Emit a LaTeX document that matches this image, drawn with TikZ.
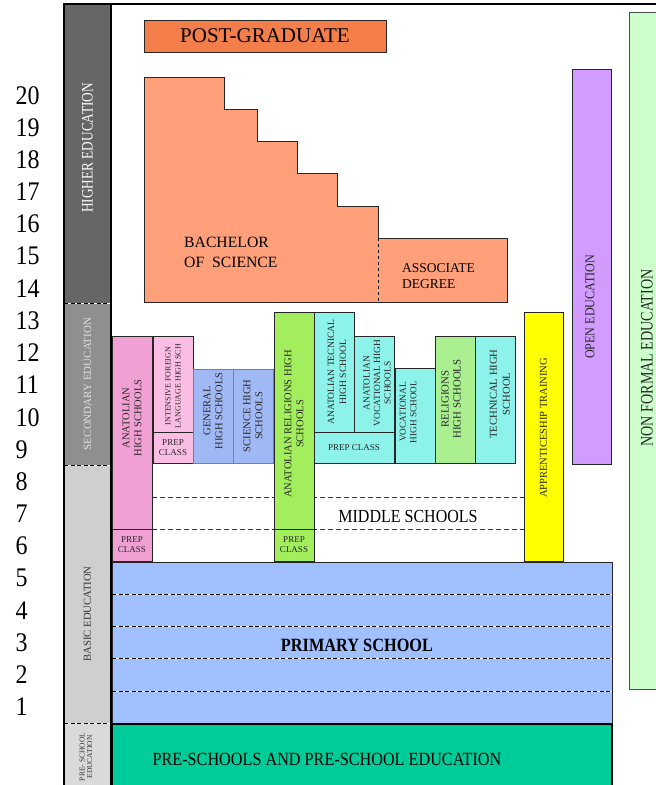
\documentclass[tikz,border=0pt]{standalone}
\usepackage{fontspec}
\setmainfont{Liberation Serif}
\usepackage{graphicx}
\usepackage{tikz}

\definecolor{hegray}{RGB}{102,102,102}
\definecolor{secgray}{RGB}{143,143,143}
\definecolor{basgray}{RGB}{207,207,207}
\definecolor{pregray}{RGB}{218,218,218}
\definecolor{pgorange}{RGB}{244,126,74}
\definecolor{bsalmon}{RGB}{255,160,122}
\definecolor{apink}{RGB}{240,160,210}
\definecolor{lpink}{RGB}{250,190,228}
\definecolor{hsblue}{RGB}{160,185,245}
\definecolor{argreen}{RGB}{162,238,92}
\definecolor{tcyan}{RGB}{140,242,234}
\definecolor{rgreen}{RGB}{170,240,145}
\definecolor{ayellow}{RGB}{255,255,0}
\definecolor{opurple}{RGB}{210,155,255}
\definecolor{nfgreen}{RGB}{204,255,204}
\definecolor{pblue}{RGB}{160,192,255}
\definecolor{pgreen}{RGB}{0,204,153}

\tikzset{
 blk/.style={draw=black!85, line width=0.8pt},
 lbl/.style={align=center, inner sep=0pt, text=black!85, font=\fontsize{10.5}{12}\selectfont},
 small/.style={align=center, inner sep=0pt, text=black!85, font=\fontsize{9}{10}\selectfont},
 sep/.style={line width=1pt, dash pattern=on 4pt off 2.5pt, preaction={draw=white, solid, line width=1pt}},
 mid/.style={line width=0.8pt, dash pattern=on 5pt off 3pt, black!80}
}

\begin{document}
\begin{tikzpicture}[x=1pt,y=-1pt]
\useasboundingbox (0,0) rectangle (656,785);

\fill[hegray] (64,4) rectangle (111,303);
\fill[secgray] (64,303) rectangle (111,465);
\fill[basgray] (64,465) rectangle (111,723);
\fill[pregray] (64,723) rectangle (111,785);
\foreach \y in {303,465,723}
 \draw[sep] (64,\y) -- (111,\y);
\draw[line width=1.3pt] (64,785) -- (64,4) -- (656,4);
\draw[line width=2pt] (111,4) -- (111,785);

\node[rotate=90, inner sep=0pt, text=white, font=\fontsize{16}{16}\selectfont] (higher) at (87.5,148) {\scalebox{0.83}[1]{HIGHER EDUCATION}};
\node[rotate=90, inner sep=0pt, text=white!88!black, font=\fontsize{11}{12}\selectfont] (secondary) at (87.5,384) {SECONDARY EDUCATION};
\node[rotate=90, inner sep=0pt, text=black!80, font=\fontsize{10.7}{12}\selectfont] (basic) at (87.5,614) {BASIC EDUCATION};
\node[rotate=90, inner sep=0pt, align=center, text=black!80, font=\fontsize{7.5}{7.5}\selectfont] (preschool) at (86,757) {PRE- SCHOOL\\EDUCATION};

\foreach \n in {1,...,20}
 \node[anchor=west, inner sep=0pt, font=\fontsize{24}{24}\selectfont] (n\n) at (15.5,{707-(\n-1)*32.2}) {\scalebox{1}[1.12]{\n}};

\draw[blk, fill=pgorange] (144,20) rectangle (386,52);
\node[font=\fontsize{21}{21}\selectfont] (postgrad) at (265,36) {POST-GRADUATE};

\draw[blk, fill=bsalmon] (144,77) -| (224,109) -| (257,141) -| (297,173) -| (337,206) -| (378,238) -| (507,302) -- (144,302) -- cycle;
\draw[dashed, line width=0.8pt] (378,238) -- (378,302);
\node[anchor=west, align=left, inner sep=0pt, font=\fontsize{15.7}{20}\selectfont] (bachelor) at (184,252) {BACHELOR\\OF~~SCIENCE};
\node[anchor=west, align=left, inner sep=0pt, font=\fontsize{13.5}{16}\selectfont] (associate) at (402,276) {ASSOCIATE\\DEGREE};

\draw[mid] (152,497) -- (524,497);
\draw[mid] (152,529) -- (524,529);
\node[font=\fontsize{16}{16}\selectfont] (middle) at (408,516) {\scalebox{1}[1.15]{MIDDLE SCHOOLS}};

\draw[blk, fill=apink] (112,336) rectangle (152,529);
\node[lbl, rotate=90] (anat) at (132,418) {ANATOLIAN\\HIGH SCHOOLS};
\draw[blk, fill=apink] (112,529) rectangle (152,561);
\node[small] (anatprep) at (132,545) {PREP\\CLASS};

\draw[blk, fill=lpink] (153,336) rectangle (193,432);
\node[lbl, rotate=90, font=\fontsize{8}{10}\selectfont] (intensive) at (173,386) {INTENSIVE FOREIGN\\LANGUAGE HIGH SCH};
\draw[blk, fill=lpink] (153,432) rectangle (193,463);
\node[small] (intensprep) at (173,448) {PREP\\CLASS};

\draw[draw=black!50, line width=0.8pt, fill=hsblue] (193,369) rectangle (233,463);
\node[lbl, rotate=90] (general) at (213,411) {GENERAL\\HIGH SCHOOLS};
\draw[draw=black!50, line width=0.8pt, fill=hsblue] (233,369) rectangle (273,463);
\node[lbl, rotate=90] (science) at (253,416) {SCIENCE HIGH\\SCHOOLS};

\draw[blk, fill=argreen] (274,312) rectangle (314,529);
\node[lbl, rotate=90] (anatrel) at (294,424) {ANATOLIAN RELIGIONS HIGH\\SCHOOLS};
\draw[blk, fill=argreen] (274,529) rectangle (314,561);
\node[small] (anatrelprep) at (294,545) {PREP\\CLASS};

\draw[blk, fill=tcyan] (314,312) rectangle (354,432);
\node[lbl, rotate=90, font=\fontsize{9.6}{12}\selectfont] (anattech) at (337,372) {ANATOLIAN TECNICAL\\HIGH SCHOOL};
\draw[blk, fill=tcyan] (354,336) rectangle (394,432);
\node[lbl, rotate=90, font=\fontsize{9.4}{10.5}\selectfont] (anatvoc) at (377,383) {ANATOLIAN\\VOCATIONAL HIGH\\SCHOOLS};
\draw[blk, fill=tcyan] (314,432) rectangle (394,463);
\node[small] (techprep) at (354,448) {PREP CLASS};

\draw[blk, fill=tcyan] (395,368) rectangle (435,463);
\node[lbl, rotate=90, font=\fontsize{9.2}{10.5}\selectfont] (voc) at (408,412) {VOCATIONAL\\HIGH SCHOOL};
\draw[blk, fill=rgreen] (435,336) rectangle (475,463);
\node[lbl, rotate=90, font=\fontsize{10.8}{12}\selectfont] (rel) at (451,399) {RELIGIONS\\HIGH SCHOOLS};
\draw[blk, fill=tcyan] (475,336) rectangle (515,463);
\node[lbl, rotate=90, font=\fontsize{10.6}{13}\selectfont] (tech) at (500,394) {TECHNICAL HIGH\\SCHOOL};

\draw[blk, fill=ayellow] (524,312) rectangle (563,561);
\node[lbl, rotate=90] (appr) at (543.5,428) {APPRENTICESHIP TRAINING};
\draw[blk, fill=opurple] (572,69) rectangle (611,464);
\node[lbl, rotate=90, font=\fontsize{13.6}{14}\selectfont] (open) at (590,307) {\scalebox{0.89}[1]{OPEN EDUCATION}};
\draw[draw=black!70, line width=0.8pt, fill=nfgreen] (629,12) rectangle (670,689);
\node[lbl, rotate=90, font=\fontsize{17.6}{18}\selectfont] (nonformal) at (647,358) {\scalebox{0.8}[1]{NON FORMAL EDUCATION}};

\draw[blk, fill=pblue] (112,562) rectangle (612,723);
\foreach \y in {594,626,658,691}
 \draw[sep] (112,\y) -- (612,\y);
\node[font=\bfseries\fontsize{16.3}{16}\selectfont] (primary) at (357,645) {\scalebox{1}[1.15]{PRIMARY SCHOOL}};

\draw[line width=1.3pt, fill=pgreen] (112,724) rectangle (612,795);
\node[font=\fontsize{16.2}{16}\selectfont] (preschools) at (327,759) {\scalebox{1}[1.15]{PRE-SCHOOLS AND PRE-SCHOOL EDUCATION}};
\end{tikzpicture}
\end{document}
